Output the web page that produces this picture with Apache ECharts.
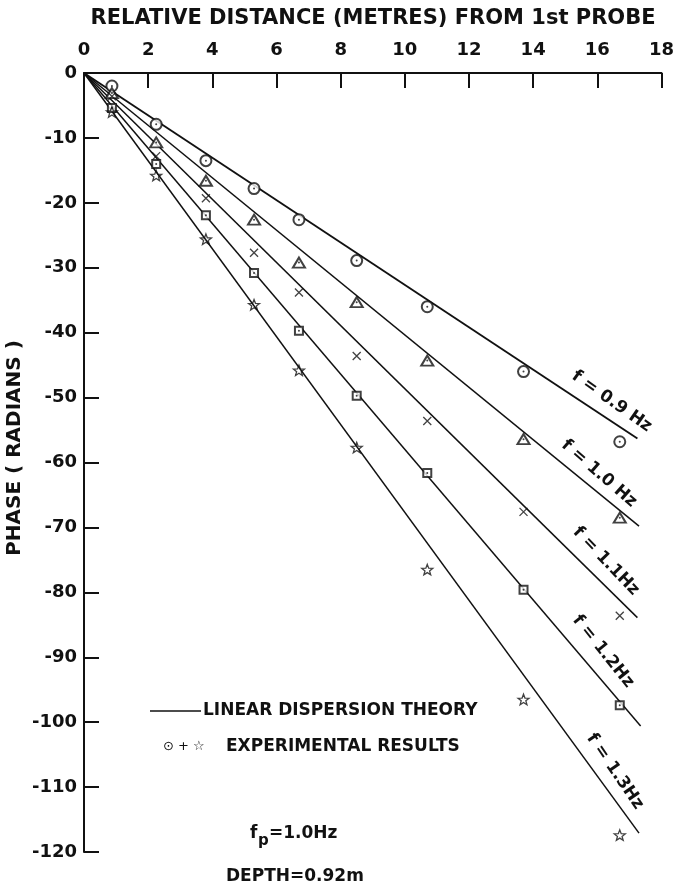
<!DOCTYPE html>
<html>
<head>
<meta charset="utf-8">
<script src="https://cdn.jsdelivr.net/npm/echarts@6/dist/echarts.min.js"></script>
<style>
  html, body { margin: 0; padding: 0; background: #fff; }
  #chart { width: 677px; height: 887px; }
</style>
</head>
<body>
<div id="chart"></div>
<script>
// Probe positions (m) relative to the first probe
const distance = [0.87, 2.25, 3.8, 5.3, 6.7, 8.5, 10.7, 13.7, 16.7];

// Measured phase (radians) at each probe, one array per wave frequency
const phase09 = [-2.0, -7.9, -13.5, -17.8, -22.6, -28.9, -36.0, -46.0, -56.8];
const phase10 = [-3.1, -10.7, -16.6, -22.6, -29.2, -35.3, -44.3, -56.4, -68.5];
const phase11 = [-3.6, -12.8, -19.3, -27.7, -33.8, -43.6, -53.6, -67.6, -83.6];
const phase12 = [-5.4, -14.0, -21.9, -30.8, -39.7, -49.7, -61.6, -79.6, -97.4];
const phase13 = [-6.0, -15.8, -25.6, -35.7, -45.8, -57.7, -76.5, -96.5, -117.4];

// Linear dispersion theory: straight lines from the origin to these end points
const theoryEndX = [17.25, 17.3, 17.25, 17.35, 17.3];
const theoryEndY = [-56.3, -69.8, -83.9, -100.6, -117.1];

// Frequency labels and their centres in data units
const freqLabels = ['f = 0.9 Hz', 'f = 1.0 Hz', 'f = 1.1Hz', 'f = 1.2Hz', 'f = 1.3Hz'];
const labelX = [16.45, 16.05, 16.27, 16.18, 16.55];
const labelY = [-50.6, -61.7, -75.2, -89.1, -107.6];

// Axis ranges
const xMin = 0, xMax = 18, xStep = 2;
const yMin = -120, yMax = 0, yStep = 10;

const INK = '#111';
const FONT = '"DejaVu Sans", "Liberation Sans", sans-serif';

const grid = { left: 84, top: 73, right: 10, bottom: 35 };
const W = 677, H = 887;
const pxPerX = (W - grid.left - grid.right) / (xMax - xMin);
const pxPerY = (H - grid.top - grid.bottom) / (yMax - yMin);

const measured = [phase09, phase10, phase11, phase12, phase13];
const pairs = arr => distance.map((d, i) => [d, arr[i]]);

const symbols = [
  'emptyCircle',
  'emptyTriangle',
  'path://M0,0L10,10M10,0L0,10',
  'emptyRect',
  'path://M0,-10L2.47,-3.4L9.51,-3.09L3.99,1.3L5.88,8.09L0,4.2L-5.88,8.09L-3.99,1.3L-9.51,-3.09L-2.47,-3.4Z'
];
const symbolSizes = [11, [12, 10], 8, 8, 11];

const series = [];

// theory lines, each carrying its rotated frequency label
theoryEndX.forEach((xe, i) => {
  const slopePx = (-theoryEndY[i] / xe) * pxPerY / pxPerX;
  const angle = Math.atan(slopePx) * 180 / Math.PI;
  series.push({
    type: 'line',
    data: [[0, 0], [xe, theoryEndY[i]]],
    symbol: 'none',
    lineStyle: { color: INK, width: i === 0 ? 1.9 : 1.5 },
    z: 2,
    markPoint: {
      symbol: 'circle',
      symbolSize: 1,
      itemStyle: { color: 'rgba(0,0,0,0)' },
      label: {
        show: true,
        position: 'inside',
        formatter: freqLabels[i],
        rotate: -(angle + 2),
        color: INK,
        fontFamily: FONT,
        fontWeight: 'bold',
        fontSize: 17
      },
      data: [{ coord: [labelX[i], labelY[i]] }]
    }
  });
});

// measured points
measured.forEach((arr, i) => {
  series.push({
    type: 'scatter',
    data: pairs(arr),
    symbol: symbols[i],
    symbolSize: symbolSizes[i],
    symbolKeepAspect: true,
    itemStyle: i === 2 || i === 4
      ? { color: 'rgba(0,0,0,0)', borderColor: INK, borderWidth: 1.3 }
      : { color: INK, borderWidth: 1.2 },
    z: 3
  });
});

// centre dots inside circles, triangles and squares
[phase09, phase10, phase12].forEach(arr => {
  series.push({
    type: 'scatter',
    data: pairs(arr),
    symbol: 'circle',
    symbolSize: 2,
    itemStyle: { color: INK },
    z: 4
  });
});

const chart = echarts.init(document.getElementById('chart'));
chart.setOption({
  animation: false,
  backgroundColor: '#fff',
  grid: grid,
  xAxis: {
    type: 'value',
    position: 'top',
    min: xMin, max: xMax, interval: xStep,
    axisLine: { show: true, onZero: false, lineStyle: { color: INK, width: 2 } },
    axisTick: { show: true, inside: true, length: 15, lineStyle: { color: INK, width: 2 } },
    axisLabel: { margin: 14, color: INK, fontFamily: FONT, fontWeight: 'bold', fontSize: 18 },
    splitLine: { show: false }
  },
  yAxis: {
    type: 'value',
    min: yMin, max: yMax, interval: yStep,
    axisLine: { show: true, onZero: false, lineStyle: { color: INK, width: 2 } },
    axisTick: { show: true, inside: true, length: 15, lineStyle: { color: INK, width: 2 } },
    axisLabel: { margin: 7, color: INK, fontFamily: FONT, fontWeight: 'bold', fontSize: 18 },
    splitLine: { show: false }
  },
  series: series,
  graphic: [
    {
      type: 'text', x: 373, y: 19,
      style: { text: 'RELATIVE DISTANCE (METRES) FROM 1st PROBE', fill: INK,
        font: 'bold 21px ' + FONT, align: 'center', verticalAlign: 'middle' }
    },
    {
      type: 'text', x: 15, y: 448, rotation: Math.PI / 2,
      style: { text: 'PHASE ( RADIANS )', fill: INK, font: 'bold 20px ' + FONT,
        align: 'center', verticalAlign: 'middle' }
    },
    {
      type: 'line', shape: { x1: 150, y1: 711, x2: 201, y2: 711 },
      style: { stroke: INK, lineWidth: 1.5 }
    },
    {
      type: 'text', x: 203, y: 711,
      style: { text: 'LINEAR DISPERSION THEORY', fill: INK, font: 'bold 17px ' + FONT,
        verticalAlign: 'middle' }
    },
    {
      type: 'text', x: 163, y: 747,
      style: { text: '⊙ + ☆', fill: INK, font: '13px ' + FONT, verticalAlign: 'middle' }
    },
    {
      type: 'text', x: 226, y: 747,
      style: { text: 'EXPERIMENTAL RESULTS', fill: INK, font: 'bold 17px ' + FONT,
        verticalAlign: 'middle' }
    },
    {
      type: 'text', x: 250, y: 834,
      style: { text: 'f', fill: INK, font: 'bold 17px ' + FONT, verticalAlign: 'middle' }
    },
    {
      type: 'text', x: 258, y: 841,
      style: { text: 'p', fill: INK, font: 'bold 15px ' + FONT, verticalAlign: 'middle' }
    },
    {
      type: 'text', x: 269, y: 834,
      style: { text: '=1.0Hz', fill: INK, font: 'bold 17px ' + FONT, verticalAlign: 'middle' }
    },
    {
      type: 'text', x: 226, y: 877,
      style: { text: 'DEPTH=0.92m', fill: INK, font: 'bold 17px ' + FONT, verticalAlign: 'middle' }
    }
  ]
});
</script>
</body>
</html>
